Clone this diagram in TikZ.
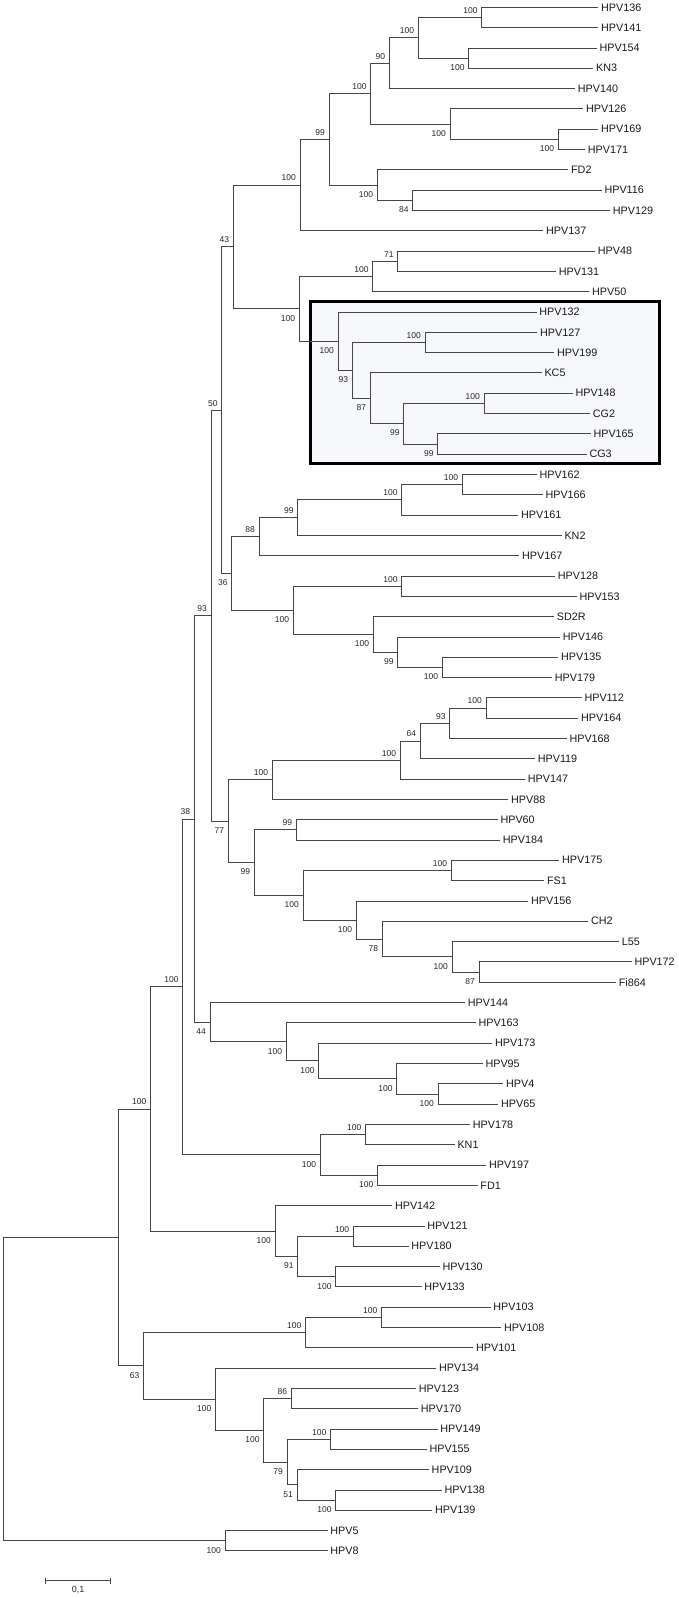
\documentclass[tikz,border=0pt]{standalone}
\usepackage{fontspec}
\setmainfont{Liberation Sans}
\definecolor{boxfill}{RGB}{247,248,252}
\definecolor{treeline}{RGB}{70,70,70}
\newcommand\tlf[4]{\node[leafnode] (#1) at (#2,#3) {#4};}
\newcommand\tnd[5]{\coordinate (#1) at (#2,#3); \node[l#5] (#1lab) at (#1) {#4};}
\newcommand\tnc[3]{\coordinate (#1) at (#2,#3);}
\newcommand\tbr[3]{\draw[br] (#1) |- (#2) (#1) |- (#3);}
\begin{document}
\begin{tikzpicture}[x=1pt,y=-20.31pt,
  br/.style={draw=treeline,line width=0.8pt},
  leafnode/.style={anchor=west,inner xsep=2.6pt,inner ysep=0pt,font=\fontsize{10.8}{12}\selectfont,text=black!90},
  la/.style={anchor=south east,inner sep=0pt,xshift=-4pt,yshift=3.75pt,font=\fontsize{8.5}{10}\selectfont,text=black!85},
  lb/.style={anchor=north east,inner sep=0pt,xshift=-4pt,yshift=-6.2pt,font=\fontsize{8.5}{10}\selectfont,text=black!85}]
\path[use as bounding box] (0,0.6406) rectangle (679,79.370);
% highlighted box
\draw[line width=2.5pt,fill=boxfill] (310.7,15.475) rectangle (659.5,23.452);
% leaves
\tlf{L1}{598.3}{1}{HPV136}
\tlf{L2}{598.3}{2}{HPV141}
\tlf{L3}{596.7}{3}{HPV154}
\tlf{L4}{593.3}{4}{KN3}
\tlf{L5}{575}{5}{HPV140}
\tlf{L6}{583.3}{6}{HPV126}
\tlf{L7}{598.3}{7}{HPV169}
\tlf{L8}{585}{8}{HPV171}
\tlf{L9}{568.3}{9}{FD2}
\tlf{L10}{601.7}{10}{HPV116}
\tlf{L11}{610}{11}{HPV129}
\tlf{L12}{543.3}{12}{HPV137}
\tlf{L13}{595}{13}{HPV48}
\tlf{L14}{556}{14}{HPV131}
\tlf{L15}{589.3}{15}{HPV50}
\tlf{L16}{536.5}{16}{HPV132}
\tlf{L17}{537.3}{17}{HPV127}
\tlf{L18}{554.3}{18}{HPV199}
\tlf{L19}{541.7}{19}{KC5}
\tlf{L20}{572.7}{20}{HPV148}
\tlf{L21}{590}{21}{CG2}
\tlf{L22}{590.7}{22}{HPV165}
\tlf{L23}{586.7}{23}{CG3}
\tlf{L24}{536.7}{24}{HPV162}
\tlf{L25}{542.7}{25}{HPV166}
\tlf{L26}{518.3}{26}{HPV161}
\tlf{L27}{561.7}{27}{KN2}
\tlf{L28}{519.3}{28}{HPV167}
\tlf{L29}{555}{29}{HPV128}
\tlf{L30}{576.7}{30}{HPV153}
\tlf{L31}{554}{31}{SD2R}
\tlf{L32}{560}{32}{HPV146}
\tlf{L33}{558.3}{33}{HPV135}
\tlf{L34}{552}{34}{HPV179}
\tlf{L35}{581.7}{35}{HPV112}
\tlf{L36}{578.3}{36}{HPV164}
\tlf{L37}{566.7}{37}{HPV168}
\tlf{L38}{535}{38}{HPV119}
\tlf{L39}{525}{39}{HPV147}
\tlf{L40}{508.3}{40}{HPV88}
\tlf{L41}{497.7}{41}{HPV60}
\tlf{L42}{500}{42}{HPV184}
\tlf{L43}{559.3}{43}{HPV175}
\tlf{L44}{544.3}{44}{FS1}
\tlf{L45}{528.3}{45}{HPV156}
\tlf{L46}{588.3}{46}{CH2}
\tlf{L47}{619}{47}{L55}
\tlf{L48}{631.7}{48}{HPV172}
\tlf{L49}{616}{49}{Fi864}
\tlf{L50}{465}{50}{HPV144}
\tlf{L51}{475.7}{51}{HPV163}
\tlf{L52}{492.3}{52}{HPV173}
\tlf{L53}{482.7}{53}{HPV95}
\tlf{L54}{503.3}{54}{HPV4}
\tlf{L55}{498.3}{55}{HPV65}
\tlf{L56}{470}{56}{HPV178}
\tlf{L57}{454.7}{57}{KN1}
\tlf{L58}{486.2}{58}{HPV197}
\tlf{L59}{477.6}{59}{FD1}
\tlf{L60}{392.2}{60}{HPV142}
\tlf{L61}{424.6}{61}{HPV121}
\tlf{L62}{408.6}{62}{HPV180}
\tlf{L63}{439.7}{63}{HPV130}
\tlf{L64}{421.6}{64}{HPV133}
\tlf{L65}{490.5}{65}{HPV103}
\tlf{L66}{501.3}{66}{HPV108}
\tlf{L67}{473.3}{67}{HPV101}
\tlf{L68}{436.2}{68}{HPV134}
\tlf{L69}{416}{69}{HPV123}
\tlf{L70}{418.1}{70}{HPV170}
\tlf{L71}{437.5}{71}{HPV149}
\tlf{L72}{426.7}{72}{HPV155}
\tlf{L73}{428.9}{73}{HPV109}
\tlf{L74}{441.8}{74}{HPV138}
\tlf{L75}{432.3}{75}{HPV139}
\tlf{L76}{327.6}{76}{HPV5}
\tlf{L77}{327.6}{77}{HPV8}
% internal nodes
\tnd{N1}{481.7}{1.5}{100}{a}
\tnd{N2}{468.7}{3.5}{100}{b}
\tnd{N3}{418.3}{2.5}{100}{a}
\tnd{N4}{389.3}{3.75}{90}{a}
\tnd{N5}{558.3}{7.5}{100}{b}
\tnd{N6}{450}{6.75}{100}{b}
\tnd{N7}{370.7}{5.25}{100}{a}
\tnd{N8}{412.7}{10.5}{84}{b}
\tnd{N9}{377.3}{9.75}{100}{b}
\tnd{N10}{329}{7.5}{99}{a}
\tnd{N11}{300}{9.75}{100}{a}
\tnd{N12}{397.7}{13.5}{71}{a}
\tnd{N13}{372.7}{14.25}{100}{a}
\tnd{N14}{425}{17.5}{100}{a}
\tnd{N15}{437.7}{22.5}{99}{b}
\tnd{N16}{484}{20.5}{100}{a}
\tnd{N17}{403.7}{21.5}{99}{b}
\tnd{N18}{370.3}{20.25}{87}{b}
\tnd{N19}{352.3}{18.875}{93}{b}
\tnd{N20}{338}{17.4375}{100}{b}
\tnd{N21}{299.3}{15.84375}{100}{b}
\tnd{N22}{233.3}{12.796875}{43}{a}
\tnd{N23}{462.3}{24.5}{100}{a}
\tnd{N24}{401.7}{25.25}{100}{a}
\tnd{N25}{297.7}{26.125}{99}{a}
\tnd{N26}{259}{27.0625}{88}{a}
\tnd{N27}{401.7}{29.5}{100}{a}
\tnd{N28}{442.3}{33.5}{100}{b}
\tnd{N29}{397.7}{32.75}{99}{b}
\tnd{N30}{373.3}{31.875}{100}{b}
\tnd{N31}{293.3}{30.6875}{100}{b}
\tnd{N32}{231.7}{28.875}{36}{b}
\tnd{N33}{221.7}{20.8359}{50}{a}
\tnd{N34}{486}{35.5}{100}{a}
\tnd{N35}{449.7}{36.25}{93}{a}
\tnd{N36}{420.3}{37.125}{64}{a}
\tnd{N37}{400.3}{38.0625}{100}{a}
\tnd{N38}{272.3}{39.03125}{100}{a}
\tnd{N39}{296.3}{41.5}{99}{a}
\tnd{N40}{451.3}{43.5}{100}{a}
\tnd{N41}{479}{48.5}{87}{b}
\tnd{N42}{452}{47.75}{100}{b}
\tnd{N43}{382.3}{46.875}{78}{b}
\tnd{N44}{356.3}{45.9375}{100}{b}
\tnd{N45}{303}{44.71875}{100}{b}
\tnd{N46}{254.3}{43.109375}{99}{b}
\tnd{N47}{228.3}{41.0703}{77}{b}
\tnd{N48}{211}{30.9531}{93}{a}
\tnd{N49}{438}{54.5}{100}{b}
\tnd{N50}{396.7}{53.75}{100}{b}
\tnd{N51}{318.7}{52.875}{100}{b}
\tnd{N52}{286.3}{51.9375}{100}{b}
\tnd{N53}{210}{50.96875}{44}{b}
\tnd{N54}{194.3}{40.9609}{38}{a}
\tnd{N55}{365.5}{56.5}{100}{a}
\tnd{N56}{377.6}{58.5}{100}{b}
\tnd{N57}{320.3}{57.5}{100}{b}
\tnd{N58}{182.8}{49.2305}{100}{a}
\tnd{N60}{353.4}{61.5}{100}{a}
\tnd{N61}{335.8}{63.5}{100}{b}
\tnd{N62}{297.8}{62.5}{91}{b}
\tnd{N63}{275}{61.25}{100}{b}
\tnd{NB}{150.5}{55.2402}{100}{a}
\tnd{N64}{381.5}{65.5}{100}{a}
\tnd{N65}{305.6}{66.25}{100}{a}
\tnd{N66}{291.4}{69.5}{86}{a}
\tnd{N67}{330.6}{71.5}{100}{a}
\tnd{N68}{335.8}{74.5}{100}{b}
\tnd{N69}{297}{73.75}{51}{b}
\tnd{N70}{287.1}{72.625}{79}{b}
\tnd{N71}{263.8}{71.0625}{100}{b}
\tnd{N73}{215.5}{69.53125}{100}{b}
\tnd{N72}{143.5}{67.890625}{63}{b}
\tnc{NA}{118.5}{61.5654}
\tnd{N74}{225}{76.5}{100}{b}
\tnc{R}{3.3}{69.0327}
% branches
\tbr{N1}{L1.west}{L2.west}
\tbr{N2}{L3.west}{L4.west}
\tbr{N3}{N1}{N2}
\tbr{N4}{N3}{L5.west}
\tbr{N5}{L7.west}{L8.west}
\tbr{N6}{L6.west}{N5}
\tbr{N7}{N4}{N6}
\tbr{N8}{L10.west}{L11.west}
\tbr{N9}{L9.west}{N8}
\tbr{N10}{N7}{N9}
\tbr{N11}{N10}{L12.west}
\tbr{N12}{L13.west}{L14.west}
\tbr{N13}{N12}{L15.west}
\tbr{N14}{L17.west}{L18.west}
\tbr{N15}{L22.west}{L23.west}
\tbr{N16}{L20.west}{L21.west}
\tbr{N17}{N16}{N15}
\tbr{N18}{L19.west}{N17}
\tbr{N19}{N14}{N18}
\tbr{N20}{L16.west}{N19}
\tbr{N21}{N13}{N20}
\tbr{N22}{N11}{N21}
\tbr{N23}{L24.west}{L25.west}
\tbr{N24}{N23}{L26.west}
\tbr{N25}{N24}{L27.west}
\tbr{N26}{N25}{L28.west}
\tbr{N27}{L29.west}{L30.west}
\tbr{N28}{L33.west}{L34.west}
\tbr{N29}{L32.west}{N28}
\tbr{N30}{L31.west}{N29}
\tbr{N31}{N27}{N30}
\tbr{N32}{N26}{N31}
\tbr{N33}{N22}{N32}
\tbr{N34}{L35.west}{L36.west}
\tbr{N35}{N34}{L37.west}
\tbr{N36}{N35}{L38.west}
\tbr{N37}{N36}{L39.west}
\tbr{N38}{N37}{L40.west}
\tbr{N39}{L41.west}{L42.west}
\tbr{N40}{L43.west}{L44.west}
\tbr{N41}{L48.west}{L49.west}
\tbr{N42}{L47.west}{N41}
\tbr{N43}{L46.west}{N42}
\tbr{N44}{L45.west}{N43}
\tbr{N45}{N40}{N44}
\tbr{N46}{N39}{N45}
\tbr{N47}{N38}{N46}
\tbr{N48}{N33}{N47}
\tbr{N49}{L54.west}{L55.west}
\tbr{N50}{L53.west}{N49}
\tbr{N51}{L52.west}{N50}
\tbr{N52}{L51.west}{N51}
\tbr{N53}{L50.west}{N52}
\tbr{N54}{N48}{N53}
\tbr{N55}{L56.west}{L57.west}
\tbr{N56}{L58.west}{L59.west}
\tbr{N57}{N55}{N56}
\tbr{N58}{N54}{N57}
\tbr{N60}{L61.west}{L62.west}
\tbr{N61}{L63.west}{L64.west}
\tbr{N62}{N60}{N61}
\tbr{N63}{L60.west}{N62}
\tbr{NB}{N58}{N63}
\tbr{N64}{L65.west}{L66.west}
\tbr{N65}{N64}{L67.west}
\tbr{N66}{L69.west}{L70.west}
\tbr{N67}{L71.west}{L72.west}
\tbr{N68}{L74.west}{L75.west}
\tbr{N69}{L73.west}{N68}
\tbr{N70}{N67}{N69}
\tbr{N71}{N66}{N70}
\tbr{N73}{L68.west}{N71}
\tbr{N72}{N65}{N73}
\tbr{NA}{NB}{N72}
\tbr{N74}{L76.west}{L77.west}
\tbr{R}{NA}{N74}
% scale bar
\coordinate (S1) at (45.7,78.47);
\coordinate (S2) at (110.7,78.47);
\draw[br] (S1) -- (S2);
\draw[br] ([yshift=3pt]S1) -- ([yshift=-3pt]S1);
\draw[br] ([yshift=3pt]S2) -- ([yshift=-3pt]S2);
\node[font=\fontsize{9}{10}\selectfont,inner sep=0pt,text=black!85] (SL) at (78.2,78.93) {0,1};
\end{tikzpicture}
\end{document}
